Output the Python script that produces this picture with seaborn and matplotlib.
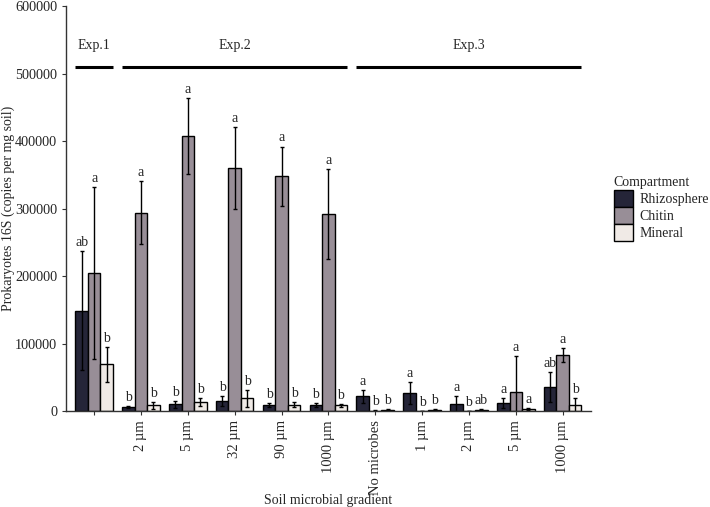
import numpy as np
import pandas as pd
import seaborn as sns
from matplotlib import pyplot as plt

# data
groups = ["e1", "e2_2", "e2_5", "e2_32", "e2_90", "e2_1000",
          "e3_none", "e3_1", "e3_2", "e3_5", "e3_1000"]
tick_labels = ["", "2 µm", "5 µm", "32 µm", "90 µm", "1000 µm",
               "No microbes", "1 µm", "2 µm", "5 µm", "1000 µm"]
compartments = ["Rhizosphere", "Chitin", "Mineral"]

rhizo_mean = [149000, 6000, 10000, 15000, 9000, 9000, 22000, 26500, 11000, 12000, 35500]
rhizo_err = [88000, 2000, 5000, 7000, 3000, 3000, 10000, 16000, 12000, 7000, 22000]
chitin_mean = [205000, 294000, 408000, 360000, 348000, 292000, 1000, 500, 500, 27700, 83500]
chitin_err = [127000, 47000, 56000, 61000, 44000, 67000, 300, 200, 200, 54000, 10000]
mineral_mean = [69500, 8500, 13000, 19000, 9500, 8500, 2000, 2000, 2000, 3000, 9000]
mineral_err = [26000, 5000, 6000, 13000, 4000, 2000, 500, 500, 500, 1000, 10000]

rhizo_letters = ["ab", "b", "b", "b", "b", "b", "a", "a", "a", "a", "ab"]
chitin_letters = ["a", "a", "a", "a", "a", "a", "b", "b", "b", "a", "a"]
mineral_letters = ["b", "b", "b", "b", "b", "b", "b", "b", "ab", "a", "b"]

exp_names = ["Exp.1", "Exp.2", "Exp.3"]
exp_start = [-0.4, 0.6, 5.6]
exp_end = [0.4, 5.4, 10.4]
exp_mid = [0, 3, 8]

colors = {"Rhizosphere": "#22223b", "Chitin": "#9a8c98", "Mineral": "#f2e9e4"}

df = pd.DataFrame({
    "group": groups * 3,
    "Compartment": np.repeat(compartments, len(groups)),
    "value": rhizo_mean + chitin_mean + mineral_mean,
    "err": rhizo_err + chitin_err + mineral_err,
    "letter": rhizo_letters + chitin_letters + mineral_letters,
})

sns.set_style("white")
plt.rcParams['font.family'] = ['Liberation Serif', 'DejaVu Serif']

fig = plt.figure(figsize=(7.1, 5.07), dpi=100)
ax = fig.add_axes([0.093, 0.189, 0.739, 0.799])

sns.barplot(data=df, x="group", y="value", hue="Compartment", order=groups,
            hue_order=compartments, palette=colors, errorbar=None,
            width=0.8, edgecolor="black", linewidth=1, ax=ax)

# error bars and letters, placed on the seaborn bars
for comp, cont in zip(compartments, ax.containers):
    sub = df[df["Compartment"] == comp].set_index("group").loc[groups]
    xs = [p.get_x() + p.get_width() / 2 for p in cont]
    ax.errorbar(xs, sub["value"], yerr=sub["err"], fmt="none",
                ecolor="black", elinewidth=1, capsize=1.5, capthick=1)
    for x, v, e, t in zip(xs, sub["value"], sub["err"], sub["letter"]):
        ax.text(x, v + e + 3000, t, ha="center", va="bottom", fontsize=10)

# experiment bars
for name, s, e, m in zip(exp_names, exp_start, exp_end, exp_mid):
    ax.plot([s, e], [510000, 510000], color="black", lw=2.2, solid_capstyle="butt")
    ax.text(m, 532000, name, ha="center", va="bottom", fontsize=10)

ax.set_xlim(-0.6, 10.6)
ax.set_ylim(0, 600000)
ax.set_yticks(range(0, 600001, 100000))
ax.set_xticks(range(len(groups)))
ax.set_xticklabels(tick_labels, rotation=90, fontsize=10.5)
ax.tick_params(axis="y", labelsize=10.3)
ax.tick_params(axis="both", direction="out", length=3, width=0.8, color="#333333", left=True, bottom=True)
for side in ["top", "right"]:
    ax.spines[side].set_visible(False)
for side in ["left", "bottom"]:
    ax.spines[side].set_color("#333333")
    ax.spines[side].set_linewidth(1)

ax.set_xlabel("Soil microbial gradient", fontsize=10)
ax.set_ylabel("Prokaryotes 16S (copies per mg soil)", fontsize=10)
ax.yaxis.set_label_coords(-0.097, 0.5)
ax.xaxis.set_label_coords(0.5, -0.205)

leg = ax.legend(title="Compartment", loc="center left", bbox_to_anchor=(1.02, 0.5),
                frameon=False, fontsize=10, title_fontsize=10,
                handlelength=1.4, handleheight=1.45, handletextpad=0.45, labelspacing=0.05)
leg._legend_box.align = "left"

plt.savefig("out.png", dpi=100)
